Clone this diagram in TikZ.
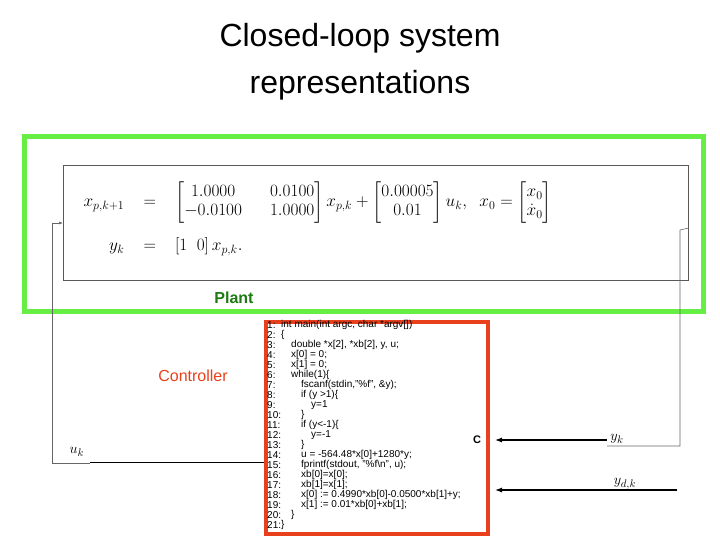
\documentclass[tikz,border=0pt]{standalone}
\usepackage{amsmath}
\usepackage{fontspec}
\setmainfont{Liberation Sans}
\usetikzlibrary{arrows.meta}
\definecolor{lime}{HTML}{66EE44}
\definecolor{redc}{HTML}{E8401C}
\definecolor{plantg}{HTML}{1E7A12}
\begin{document}
\begin{tikzpicture}[x=1pt,y=-1pt,
  thin line/.style={draw=gray!80!black,line width=0.6pt},
  arr/.style={-{Latex[length=7pt,width=5pt]},line width=1.1pt},
  codeline/.style={anchor=west,inner sep=0pt,font=\fontsize{10}{10}\selectfont}]
\useasboundingbox (0,0) rectangle (720,540);
\node (t1) at (360,38) {\fontsize{32}{36}\selectfont Closed-loop system};
\node (t2) at (360,85) {\fontsize{32}{36}\selectfont representations};
% plant box
\node[draw=gray!70!black,line width=0.6pt,minimum width=625pt,minimum height=115pt,anchor=north west,inner sep=0pt] (plant) at (63,165) {};
\node[anchor=west] (eq) at (80,219) {\fontsize{17}{19}\selectfont$\setlength\arraycolsep{14pt}\begin{aligned}
x_{p,k+1} &\;\;\;=\;\;\; \begin{bmatrix}1.0000 & 0.0100\\ -0.0100 & 1.0000\end{bmatrix} x_{p,k} + \begin{bmatrix}0.00005\\ 0.01\end{bmatrix} u_k,\;\; x_0=\begin{bmatrix} x_0\\ \dot x_0\end{bmatrix}\\[10pt]
y_k &\;\;\;=\;\;\; [1\ \ 0]\, x_{p,k}.
\end{aligned}$};
\draw[lime,line width=5pt] (24,137) rectangle (703,311);
\node[font=\bfseries\fontsize{16}{18}\selectfont,text=plantg] (pl) at (234,298) {Plant};
\node[font=\fontsize{16}{18}\selectfont,text=redc] (ct) at (193,376) {Controller};
% controller box
\node[draw=redc,line width=4pt,minimum width=222pt,minimum height=212pt,anchor=north west,inner sep=0pt] (ctrl) at (264,320) {};
\foreach \n/\c [count=\i] in {
 1:/{int main(int argc, char *argv[])},
 2:/{\{},
 3:/{\quad double *x[2], *xb[2], y, u;},
 4:/{\quad x[0] = 0;},
 5:/{\quad x[1] = 0;},
 6:/{\quad while(1)\{},
 7:/{\qquad fscanf(stdin,"\%f", \&y);},
 8:/{\qquad if (y >1)\{},
 9:/{\qquad\quad y=1},
 10:/{\qquad \}},
 11:/{\qquad if (y<-1)\{},
 12:/{\qquad\quad y=-1},
 13:/{\qquad \}},
 14:/{\qquad u = -564.48*x[0]+1280*y;},
 15:/{\qquad fprintf(stdout, "\%f\textbackslash n", u);},
 16:/{\qquad xb[0]=x[0];},
 17:/{\qquad xb[1]=x[1];},
 18:/{\qquad x[0] := 0.4990*xb[0]-0.0500*xb[1]+y;},
 19:/{\qquad x[1] := 0.01*xb[0]+xb[1];},
 20:/{\quad\}},
 21:/{\}}}{
  \node[codeline] (n\i) at (267,{315+\i*10}) {\n};
  \node[codeline] (c\i) at (281,{315+\i*10}) {\c};
}
\node[font=\bfseries\fontsize{11}{12}\selectfont] (C) at (477,440) {C};
% labels
\node (uk) at (77,452) {\fontsize{15}{17}\selectfont$u_k$};
\node (yk) at (617,439) {\fontsize{15}{17}\selectfont$y_k$};
\node (ydk) at (625,484) {\fontsize{15}{17}\selectfont$y_{d,k}$};
% connectors
\coordinate (lb) at (52,463);
\coordinate (ro) at (680,230);
\coordinate (rb) at (680,446);
\coordinate (yin) at (607,440);
\coordinate (ydin) at (677,490);
\draw[thin line,-{Latex[length=4pt,width=3pt]}] (lb) |- (plant.west |- 0,223);
\draw[thin line] (lb) -- (90,463);
\draw[line width=0.8pt] (90,462) -- (ctrl.west |- 0,462);
\draw[thin line] (plant.east |- 0,228) -- (ro) -- (rb) -- (607,446);
\draw[arr] (yin) -- (495,440);
\draw[arr] (ydin) -- (495,490);
\end{tikzpicture}
\end{document}
